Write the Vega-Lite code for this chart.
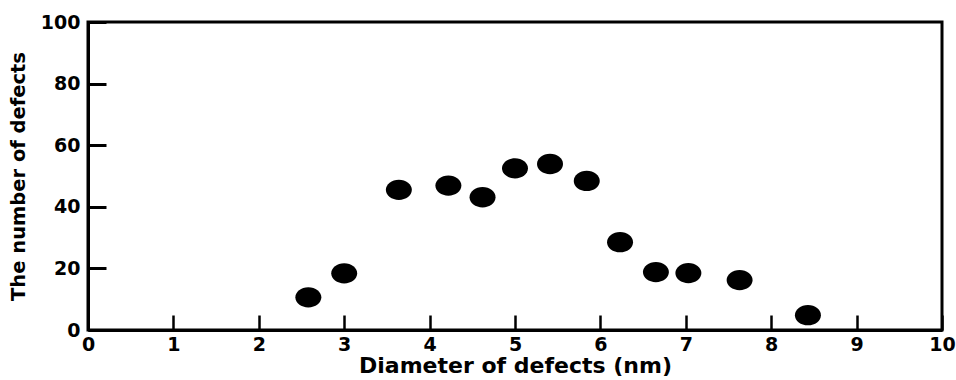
{
  "$schema": "https://vega.github.io/schema/vega-lite/v6.json",
  "width": 854,
  "height": 308,
  "autosize": "none",
  "padding": {"left": 88, "top": 22, "right": 14, "bottom": 50},
  "background": "white",
  "config": {
    "view": {"stroke": "black", "strokeWidth": 3},
    "axis": {
      "domainColor": "black",
      "domainWidth": 3,
      "tickColor": "black",
      "tickWidth": 2.5,
      "grid": false,
      "labelFont": "DejaVu Sans",
      "labelFontWeight": "bold",
      "labelFontSize": 19,
      "labelColor": "black",
      "titleFont": "DejaVu Sans",
      "titleFontWeight": "bold",
      "titleColor": "black"
    }
  },
  "data": {
    "values": [
      {"d": 2.58, "n": 10.6},
      {"d": 3.0, "n": 18.4},
      {"d": 3.64, "n": 45.5},
      {"d": 4.22, "n": 46.9},
      {"d": 4.62, "n": 43.1},
      {"d": 5.0, "n": 52.5},
      {"d": 5.41, "n": 53.9},
      {"d": 5.84, "n": 48.4},
      {"d": 6.23, "n": 28.5},
      {"d": 6.65, "n": 18.8},
      {"d": 7.03, "n": 18.5},
      {"d": 7.63, "n": 16.2},
      {"d": 8.43, "n": 4.8}
    ]
  },
  "mark": {
    "type": "point",
    "filled": true,
    "color": "black",
    "opacity": 1,
    "shape": "M-1,0A1,0.78 0 1,1 1,0A1,0.78 0 1,1 -1,0Z",
    "size": 676
  },
  "encoding": {
    "x": {
      "field": "d",
      "type": "quantitative",
      "scale": {"domain": [0, 10], "nice": false},
      "axis": {
        "title": "Diameter of defects (nm)",
        "titleFontSize": 22,
        "values": [0, 1, 2, 3, 4, 5, 6, 7, 8, 9, 10],
        "tickSize": -15,
        "labelPadding": 20,
        "titlePadding": 1,
        "labelFlush": false
      }
    },
    "y": {
      "field": "n",
      "type": "quantitative",
      "scale": {"domain": [0, 100], "nice": false},
      "axis": {
        "title": "The number of defects",
        "titleFontSize": 19.5,
        "values": [0, 20, 40, 60, 80, 100],
        "tickSize": -18,
        "tickWidth": 3,
        "labelPadding": 26,
        "titlePadding": 12,
        "labelFlush": false
      }
    }
  }
}
